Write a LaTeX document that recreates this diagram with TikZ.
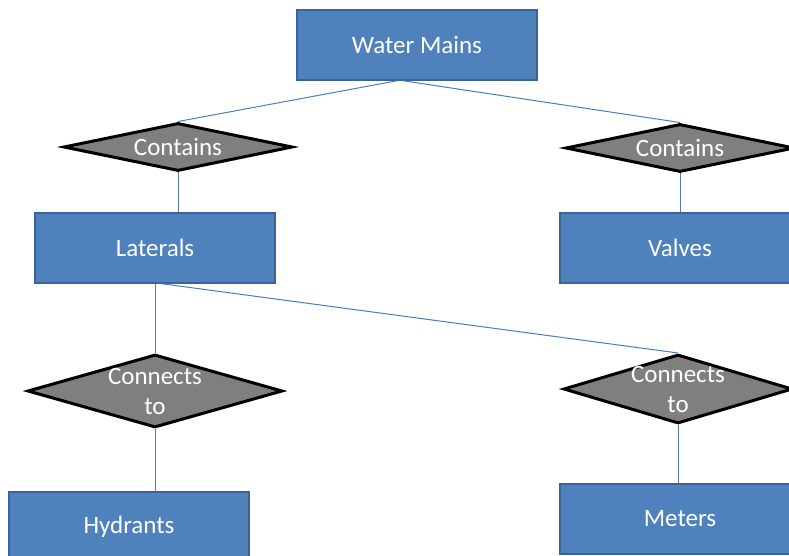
\documentclass[tikz,border=0pt]{standalone}
\usepackage{fontspec}
\setmainfont{Carlito}
\usepackage{tikz}
\usetikzlibrary{shapes.geometric,calc}

\definecolor{boxblue}{HTML}{4F81BD}
\definecolor{boxedge}{HTML}{3A6398}
\definecolor{linkblue}{HTML}{4A7EBB}
\definecolor{relgray}{HTML}{7F7F7F}

\begin{document}
\begin{tikzpicture}[x=1pt,y=-1pt]
\tikzstyle{every node}+=[inner sep=0pt]
\tikzstyle{entity}=[rectangle, draw=boxedge, fill=boxblue, line width=1.5pt,
  minimum width=240pt, minimum height=70pt, text=white, font=\fontsize{25}{30}\selectfont]
\tikzstyle{rel}=[diamond, draw=black, fill=relgray, line width=3pt,
  minimum width=229pt, minimum height=48pt]
\tikzstyle{reltext}=[text=white, align=center, font=\fontsize{25}{30}\selectfont]
\tikzstyle{link}=[draw=linkblue, line width=1pt]
\clip (0,0) rectangle (789,556);
\fill [white] (0,0) rectangle (789,556);
% entities
\node [entity] (wm) at (417,45) {Water Mains};
\node [entity] (lat) at (155,248) {Laterals};
\node [entity] (val) at (680,248) {Valves};
\node [entity] (hyd) at (129,527) {Hydrants};
\node [entity] (met) at (680,519) {Meters};
% relationships
\node [rel, label={[reltext]center:Contains}] (c1) at (178,147) {};
\node [rel, label={[reltext]center:Contains}] (c2) at (680,148) {};
\node [rel, minimum width=255pt, minimum height=73pt, label={[reltext]center:Connects\\to}] (cn1) at (155,391) {};
\node [rel, minimum height=69pt, label={[reltext]center:Connects\\to}] (cn2) at (678,389) {};
% links
\draw [link] ($(wm.south)+(-20,0)$) -- (c1.north);
\draw [link] ($(wm.south)+(-14,0)$) -- (c2.north);
\draw [link] (c1.south) -- (c1.south |- lat.north);
\draw [link] (c2.south) -- (val.north);
\draw [link] (lat.south) -- (cn1.north);
\draw [link] ($(lat.south)+(7,0)$) -- (cn2.north);
\draw [link] (cn1.south) -- (cn1.south |- hyd.north);
\draw [link] (cn2.south) -- (cn2.south |- met.north);
\end{tikzpicture}
\end{document}
